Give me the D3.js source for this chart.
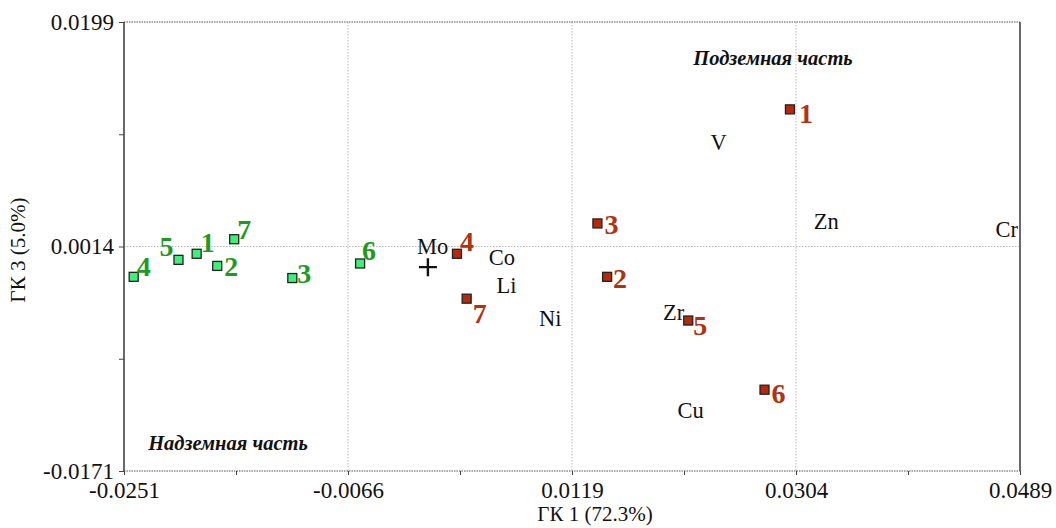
<!DOCTYPE html>
<html>
<head>
<meta charset="utf-8">
<script src="https://cdn.jsdelivr.net/npm/d3@7"></script>
<style>
  body { margin: 0; background: #fff; }
  text { font-family: "Liberation Serif", "Times New Roman", serif; }
</style>
</head>
<body>
<svg id="chart" width="1056" height="528"></svg>
<script>
// PCA scores: samples (above ground / underground) and element loadings
const xTicks = [-0.0251, -0.0066, 0.0119, 0.0304, 0.0489];
const yTicks = [-0.0171, 0.0014, 0.0199];

const aboveIds = ['4', '5', '1', '2', '7', '3', '6'];
const aboveX = [-0.0243, -0.0206, -0.0191, -0.0174, -0.0160, -0.0112, -0.0056];
const aboveY = [-0.0011, 0.0003, 0.0008, -0.0002, 0.0020, -0.0012, 0.0000];

const belowIds = ['4', '7', '3', '2', '1', '5', '6'];
const belowX = [0.0024, 0.0032, 0.0140, 0.0148, 0.0299, 0.0215, 0.0278];
const belowY = [0.0008, -0.0029, 0.0033, -0.0011, 0.0127, -0.0047, -0.0104];

const elements = ['Mo', 'Co', 'Li', 'Ni', 'V', 'Zn', 'Cr', 'Zr', 'Cu'];
const elemX = [0.0004, 0.0061, 0.0065, 0.0101, 0.0240, 0.0329, 0.0478, 0.0203, 0.0217];
const elemY = [0.0014, 0.0005, -0.0018, -0.0045, 0.0100, 0.0035, 0.0028, -0.0040, -0.0121];

const centerPoint = [0.0000, -0.0003];

// label offsets in px (dx, dy from marker to label centre)
const aboveOffsets = [[10, -11], [-12, -14], [11, -12], [14, 0], [10, -10], [12, -5], [9, -13]];
const belowOffsets = [[10, -13], [13, 15], [14, 1], [13, 1], [16, 4], [12, 5], [14, 4]];

const margin = { left: 124, right: 36, top: 22, bottom: 57 };
const W = 1056, H = 528;
const svg = d3.select('#chart');

const x = d3.scaleLinear().domain([xTicks[0], xTicks[4]]).range([margin.left, W - margin.right]);
const y = d3.scaleLinear().domain([yTicks[0], yTicks[2]]).range([H - margin.bottom, margin.top]);

const x0 = x.range()[0], x1 = x.range()[1], y0 = y.range()[1], y1 = y.range()[0];
const fmt = d3.formatLocale({ decimal: '.', thousands: ',', grouping: [3], currency: ['', ''], minus: '-' }).format('.4f');

// grid
const grid = svg.append('g').attr('stroke', '#bbb').attr('stroke-width', 1).attr('stroke-dasharray', '1.5,1.5');
grid.selectAll('.gx').data(xTicks.slice(1, -1)).enter().append('line')
  .attr('x1', d => x(d)).attr('x2', d => x(d)).attr('y1', y0).attr('y2', y1);
grid.selectAll('.gy').data(yTicks.slice(1, -1)).enter().append('line')
  .attr('x1', x0).attr('x2', x1).attr('y1', d => y(d)).attr('y2', d => y(d));

// frame: dotted top/bottom, solid left/right
svg.append('line').attr('x1', x0).attr('x2', x1).attr('y1', y0).attr('y2', y0)
  .attr('stroke', '#555').attr('stroke-dasharray', '1.5,1').attr('stroke-width', 1.2);
svg.append('line').attr('x1', x0).attr('x2', x1).attr('y1', y1).attr('y2', y1)
  .attr('stroke', '#555').attr('stroke-dasharray', '1.5,1').attr('stroke-width', 1.2);
svg.append('line').attr('x1', x0).attr('x2', x0).attr('y1', y0).attr('y2', y1)
  .attr('stroke', '#444').attr('stroke-width', 1.6);
svg.append('line').attr('x1', x1).attr('x2', x1).attr('y1', y0).attr('y2', y1)
  .attr('stroke', '#444').attr('stroke-width', 1.6);

// axes
const minorX = d3.range(0, 9).map(i => xTicks[0] + i * (xTicks[4] - xTicks[0]) / 8);
const minorY = d3.range(0, 5).map(i => yTicks[0] + i * (yTicks[2] - yTicks[0]) / 4);

const xAxis = svg.append('g').attr('transform', `translate(0,${y1})`)
  .call(d3.axisBottom(x).tickValues(minorX).tickSize(4).tickFormat(''));
xAxis.select('.domain').remove();
const xLab = svg.append('g').attr('transform', `translate(0,${y1})`)
  .call(d3.axisBottom(x).tickValues(xTicks).tickSize(0).tickPadding(11).tickFormat(fmt));
xLab.select('.domain').remove();
xLab.selectAll('text').attr('font-size', 23).attr('fill', '#111')
  .style('font-family', '"Liberation Serif", serif');

const yAxis = svg.append('g').attr('transform', `translate(${x0},0)`)
  .call(d3.axisLeft(y).tickValues(minorY).tickSize(5).tickFormat(''));
yAxis.select('.domain').remove();
const yLab = svg.append('g').attr('transform', `translate(${x0},0)`)
  .call(d3.axisLeft(y).tickValues(yTicks).tickSize(0).tickPadding(10).tickFormat(fmt));
yLab.select('.domain').remove();
yLab.selectAll('text').attr('font-size', 23).attr('fill', '#111')
  .style('font-family', '"Liberation Serif", serif');
svg.selectAll('.tick line').attr('stroke', '#444');

// axis titles
svg.append('text').attr('x', 595).attr('y', 521).attr('text-anchor', 'middle')
  .attr('font-size', 21).attr('fill', '#111').text('ГК 1 (72.3%)');
svg.append('text').attr('transform', 'translate(25,250) rotate(-90)').attr('text-anchor', 'middle')
  .attr('font-size', 21).attr('fill', '#111').text('ГК 3 (5.0%)');

// group captions
svg.append('text').attr('x', 773).attr('y', 65).attr('text-anchor', 'middle')
  .attr('font-size', 20.5).attr('font-weight', 'bold').attr('font-style', 'italic')
  .attr('fill', '#111').text('Подземная часть');
svg.append('text').attr('x', 228).attr('y', 450).attr('text-anchor', 'middle')
  .attr('font-size', 20.5).attr('font-weight', 'bold').attr('font-style', 'italic')
  .attr('fill', '#111').text('Надземная часть');

// element labels
svg.selectAll('.elem').data(elements).enter().append('text')
  .attr('x', (d, i) => x(elemX[i])).attr('y', (d, i) => y(elemY[i]))
  .attr('dy', '0.35em').attr('text-anchor', 'middle')
  .attr('font-size', 22.5).attr('fill', '#111').text(d => d);

// centre cross
svg.append('path')
  .attr('d', `M${x(centerPoint[0]) - 9},${y(centerPoint[1])}h18M${x(centerPoint[0])},${y(centerPoint[1]) - 9}v18`)
  .attr('stroke', '#111').attr('stroke-width', 2.4);

function drawGroup(ids, xs, ys, offs, fill, textColor) {
  const g = svg.append('g');
  g.selectAll('rect').data(ids).enter().append('rect')
    .attr('x', (d, i) => x(xs[i]) - 4.5).attr('y', (d, i) => y(ys[i]) - 4.5)
    .attr('width', 9).attr('height', 9)
    .attr('fill', fill).attr('stroke', '#222').attr('stroke-width', 1.3);
  g.selectAll('text').data(ids).enter().append('text')
    .attr('x', (d, i) => x(xs[i]) + offs[i][0]).attr('y', (d, i) => y(ys[i]) + offs[i][1])
    .attr('dy', '0.35em').attr('text-anchor', 'middle')
    .attr('font-size', 28).attr('font-weight', 'bold').attr('fill', textColor).text(d => d);
}

drawGroup(aboveIds, aboveX, aboveY, aboveOffsets, '#3ef07a', '#1f9a1f');
drawGroup(belowIds, belowX, belowY, belowOffsets, '#b52a0c', '#b0320e');
</script>
</body>
</html>
